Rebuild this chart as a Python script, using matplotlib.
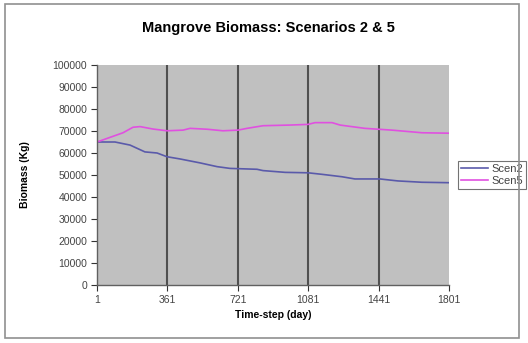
import matplotlib
matplotlib.use("Agg")
import matplotlib.pyplot as plt
from matplotlib.patches import Rectangle

plt.rcParams['font.family'] = ['Liberation Sans', 'DejaVu Sans']

# biomass per scenario, read at the breakpoints of each run
days_scen2 = [1, 93, 170, 246, 308, 359, 425, 528, 615, 681, 819, 850, 963, 1080,
              1152, 1254, 1320, 1448, 1540, 1663, 1801]
scen2 = [65000, 65000, 63600, 60500, 60000, 58300, 57300, 55500, 53800, 53000, 52600,
         52000, 51200, 51000, 50300, 49200, 48200, 48200, 47300, 46700, 46500]

days_scen5 = [1, 134, 185, 221, 287, 359, 441, 477, 564, 645, 722, 768, 850, 988,
              1080, 1116, 1203, 1244, 1371, 1509, 1663, 1801]
scen5 = [65000, 69200, 71700, 72000, 70900, 70100, 70400, 71200, 70800, 70100, 70400,
         71200, 72400, 72700, 73000, 73800, 73800, 72700, 71200, 70400, 69200, 69000]

x_ticks = [1, 361, 721, 1081, 1441, 1801]
y_ticks = list(range(0, 100001, 10000))

fig = plt.figure(figsize=(5.28, 3.43), dpi=100)
fig.patches.append(Rectangle((5 / 528, 5 / 343), 514 / 528, 334 / 343,
                             transform=fig.transFigure, fill=False,
                             edgecolor='#909090', linewidth=1.2))

ax = fig.add_axes([97 / 528, 58 / 343, 352 / 528, 220 / 343])
ax.set_facecolor('#c0c0c0')

ax.plot(days_scen2, scen2, color='#5a5aaa', linewidth=1.2, label='Scen2')
ax.plot(days_scen5, scen5, color='#e050e0', linewidth=1.2, label='Scen5')

ax.set_xlim(1, 1801)
ax.set_ylim(0, 100000)
ax.set_xticks(x_ticks)
ax.set_yticks(y_ticks)
ax.tick_params(labelsize=7.5, colors='#333333', length=4, width=0.8, pad=3)
for lbl in ax.get_xticklabels() + ax.get_yticklabels():
    lbl.set_color('#444444')

for d in x_ticks[1:-1]:
    ax.axvline(d, color='#505050', linewidth=1.5, zorder=1)

for side in ['top', 'right']:
    ax.spines[side].set_visible(False)
for side in ['left', 'bottom']:
    ax.spines[side].set_color('#606060')
    ax.spines[side].set_linewidth(1.0)

ax.set_xlabel('Time-step (day)', fontsize=7.5, fontweight='bold', labelpad=4)
ax.set_ylabel('Biomass (Kg)', fontsize=7.5, fontweight='bold', labelpad=16)
fig.text(268 / 528, 1 - 28 / 343, 'Mangrove Biomass: Scenarios 2 & 5',
         ha='center', va='center', fontsize=10.5, fontweight='bold')

leg = ax.legend(loc='center left', bbox_to_anchor=(1.025, 0.5), fontsize=8,
                frameon=True, fancybox=False, handlelength=2.4, handletextpad=0.3,
                borderpad=0.3, labelspacing=0.2, borderaxespad=0)
leg.get_frame().set_edgecolor('#505050')
leg.get_frame().set_linewidth(0.8)
for t in leg.get_texts():
    t.set_color('#444444')

fig.savefig('out.png', dpi=100)
